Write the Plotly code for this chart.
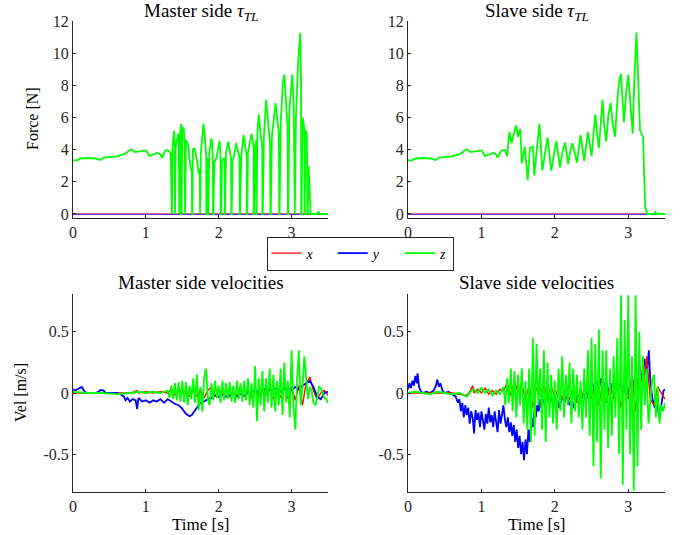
import plotly.graph_objects as go

# ---------------- data ----------------
# Force (top row)
t_force_xy = [0.0, 0.5, 1.0, 1.5, 2.0, 2.5, 3.0, 3.5]
master_fx = [0.0, 0.0, 0.0, 0.0, 0.0, 0.0, 0.0, 0.0]
master_fy = [-0.03, -0.03, -0.03, -0.03, -0.03, -0.03, -0.03, -0.03]
slave_fx = [0.0, 0.0, 0.0, 0.0, 0.0, 0.0, 0.0, 0.0]
slave_fy = [-0.03, -0.03, -0.03, -0.03, -0.03, -0.03, -0.03, -0.03]

t_master_fz = [0.00, 0.05, 0.10, 0.20, 0.30, 0.38, 0.42, 0.50, 0.60, 0.70, 0.78, 0.80, 0.85, 0.92, 1.00,
               1.05, 1.10, 1.15, 1.20, 1.22, 1.27, 1.30,
               1.34, 1.347, 1.357, 1.365, 1.388, 1.392, 1.395, 1.40, 1.41, 1.443, 1.452, 1.454, 1.46,
               1.47, 1.485, 1.487, 1.49, 1.50, 1.52, 1.532, 1.534, 1.538, 1.55, 1.58, 1.61, 1.632, 1.634,
               1.638, 1.645, 1.665, 1.70, 1.725, 1.738, 1.74, 1.745, 1.755, 1.79, 1.81, 1.828, 1.83, 1.835,
               1.84, 1.852, 1.854, 1.858, 1.87, 1.90, 1.91, 1.92, 1.922, 1.926, 1.94, 1.97, 2.01, 2.025,
               2.027, 2.031, 2.045, 2.06, 2.08, 2.082, 2.086, 2.10, 2.13, 2.15, 2.17, 2.173, 2.177, 2.19,
               2.21, 2.24, 2.26, 2.285, 2.288, 2.292, 2.31, 2.34, 2.36, 2.385, 2.388, 2.392, 2.40, 2.45,
               2.47, 2.478, 2.48, 2.484, 2.495, 2.514, 2.516, 2.52, 2.53, 2.55, 2.57, 2.597, 2.60, 2.604,
               2.62, 2.65, 2.67, 2.705, 2.71, 2.714, 2.73, 2.78, 2.80, 2.826, 2.83, 2.834, 2.85, 2.88,
               2.90, 2.92, 2.946, 2.95, 2.954, 2.97, 3.01, 3.03, 3.037, 3.04, 3.044, 3.06, 3.09, 3.12,
               3.13, 3.132, 3.136, 3.15, 3.175, 3.178, 3.182, 3.19, 3.21, 3.218, 3.222, 3.235, 3.25, 3.26,
               3.30, 3.35, 3.37, 3.39, 3.45, 3.50]
master_fz = [3.35, 3.32, 3.45, 3.48, 3.45, 3.35, 3.50, 3.52, 3.58, 3.72, 3.95, 4.02, 3.85, 3.88, 3.95,
             3.60, 3.70, 3.80, 3.70, 3.50, 3.95, 3.95,
             3.80, 0.0, 0.0, 4.2, 5.18, 4.8, 0.0, 0.0, 4.2, 5.0, 4.5, 0.0, 0.0,
             5.0, 5.6, 0.0, 0.0, 5.4, 5.3, 4.5, 0.0, 0.0, 4.6, 4.3, 3.0, 2.6, 0.0,
             0.0, 4.0, 4.1, 3.4, 2.5, 2.8, 0.0, 0.0, 3.8, 5.6, 4.8, 3.6, 0.0, 0.0,
             3.5, 3.2, 0.0, 0.0, 3.8, 4.7, 4.4, 3.4, 0.0, 0.0, 3.2, 3.5, 4.55, 3.8,
             0.0, 0.0, 3.3, 3.4, 3.5, 0.0, 0.0, 3.8, 4.5, 4.0, 3.4, 0.0, 0.0, 3.4,
             3.6, 4.4, 3.9, 3.5, 0.0, 0.0, 3.6, 4.9, 4.3, 3.6, 0.0, 0.0, 3.8, 5.0,
             4.4, 4.2, 0.0, 0.0, 4.0, 4.6, 0.0, 0.0, 5.0, 6.2, 5.2, 4.1, 0.0, 0.0,
             4.8, 7.1, 6.2, 4.3, 0.0, 0.0, 4.8, 6.9, 6.0, 5.0, 0.0, 0.0, 5.5, 8.2,
             8.65, 7.0, 5.4, 0.0, 0.0, 6.5, 8.65, 6.5, 4.0, 0.0, 0.0, 6.0, 9.5, 11.27,
             8.0, 0.0, 0.0, 6.0, 5.3, 0.0, 0.0, 5.2, 5.0, 0.0, 0.0, 3.0, 1.0, 0.0,
             0.0, 0.0, 0.12, 0.0, 0.0, 0.0]

t_slave_fz = [0.00, 0.05, 0.10, 0.20, 0.30, 0.38, 0.42, 0.50, 0.60, 0.70, 0.78, 0.80, 0.85, 0.92, 1.00,
              1.05, 1.10, 1.15, 1.20, 1.22, 1.27, 1.30,
              1.32, 1.35, 1.38, 1.41, 1.44, 1.47, 1.50, 1.53, 1.55, 1.59, 1.63, 1.66, 1.70, 1.72,
              1.745, 1.79, 1.83, 1.86, 1.90, 1.95, 1.98, 2.02, 2.07, 2.10, 2.14, 2.18, 2.21, 2.24,
              2.30, 2.33, 2.35, 2.40, 2.43, 2.45, 2.50, 2.53, 2.55, 2.58, 2.60, 2.63, 2.65, 2.67,
              2.70, 2.73, 2.76, 2.79, 2.82, 2.85, 2.88, 2.90, 2.94, 2.97, 3.00, 3.03, 3.06, 3.08,
              3.11, 3.13, 3.16, 3.18, 3.20, 3.23, 3.26, 3.30, 3.35, 3.37, 3.39, 3.50]
slave_fz = [3.35, 3.32, 3.45, 3.48, 3.45, 3.35, 3.50, 3.52, 3.58, 3.72, 3.95, 4.02, 3.85, 3.88, 3.95,
            3.60, 3.70, 3.80, 3.70, 3.50, 3.95, 3.95,
            3.98, 3.60, 5.10, 4.40, 5.00, 5.50, 4.80, 5.30, 3.15, 4.20, 2.10, 4.10, 4.20, 2.40,
            3.60, 5.60, 2.70, 3.50, 4.77, 2.70, 3.60, 4.55, 2.90, 3.80, 4.45, 3.10, 3.90, 4.40,
            3.20, 4.20, 4.90, 3.30, 4.30, 5.10, 3.60, 5.00, 6.20, 4.80, 4.10, 6.00, 7.10, 5.60,
            4.50, 6.20, 6.90, 5.50, 4.80, 7.00, 8.40, 8.70, 5.70, 7.50, 8.65, 6.80, 5.00, 8.00,
            11.28, 9.00, 5.20, 5.00, 4.80, 0.45, 0.00, 0.00, 0.00, 0.12, 0.00, 0.00]

# Velocities (bottom row)
t_master_vx = [0.0, 0.3, 0.6, 0.8, 0.88, 0.9, 1.0, 1.1, 1.2, 1.3, 1.35, 1.4, 1.45, 1.5, 1.55, 1.6, 1.65,
               1.7, 1.75, 1.8, 1.85, 1.9, 1.95, 2.0, 2.05, 2.1, 2.15, 2.2, 2.25, 2.3, 2.35, 2.4, 2.45,
               2.5, 2.55, 2.6, 2.65, 2.7, 2.75, 2.8, 2.85, 2.9, 2.95, 3.0, 3.05, 3.1, 3.15, 3.2, 3.25,
               3.3, 3.35, 3.4, 3.45, 3.5]
master_vx = [0.0, 0.0, 0.0, 0.0, 0.02, 0.0, 0.01, 0.0, 0.01, 0.0, 0.03, -0.02, 0.04, 0.0, 0.03, -0.03,
             0.02, -0.03, 0.03, -0.04, 0.02, 0.05, -0.03, 0.04, -0.02, 0.03, -0.03, 0.02, -0.02, 0.03,
             -0.03, 0.02, -0.04, 0.04, -0.03, 0.05, -0.02, 0.04, -0.05, 0.03, -0.04, 0.06, -0.05, 0.05,
             -0.06, 0.06, -0.10, 0.08, 0.13, 0.02, -0.05, 0.0, 0.02, -0.02]

t_master_vy = [0.00, 0.03, 0.06, 0.10, 0.12, 0.14, 0.16, 0.20, 0.25, 0.30, 0.35, 0.38, 0.42, 0.45, 0.50,
               0.60, 0.65, 0.70, 0.72, 0.75, 0.78, 0.82, 0.86, 0.88, 0.90, 0.95, 1.00, 1.05, 1.10, 1.15,
               1.20, 1.25, 1.30, 1.35, 1.40, 1.45, 1.50, 1.55, 1.60, 1.63, 1.66, 1.70, 1.75, 1.80, 1.85,
               1.90, 1.95, 2.00, 2.05, 2.10, 2.15, 2.20, 2.25, 2.30, 2.35, 2.40, 2.45, 2.50, 2.55, 2.60,
               2.65, 2.70, 2.75, 2.80, 2.85, 2.90, 2.95, 3.00, 3.05, 3.10, 3.15, 3.20, 3.25, 3.30, 3.35,
               3.40, 3.45, 3.50]
master_vy = [0.03, 0.02, 0.03, 0.04, 0.05, 0.03, 0.01, 0.0, 0.0, 0.0, 0.01, 0.025, 0.02, 0.0, 0.0,
             0.0, -0.01, -0.03, -0.06, -0.04, -0.07, -0.05, -0.06, -0.13, -0.04, -0.07, -0.06, -0.08,
             -0.06, -0.07, -0.05, -0.08, -0.05, -0.07, -0.09, -0.10, -0.13, -0.17, -0.19, -0.18, -0.15,
             -0.12, -0.08, -0.07, -0.05, -0.04, -0.02, -0.03, -0.01, -0.03, -0.02, 0.0, -0.03, -0.01,
             -0.02, 0.0, -0.01, 0.03, 0.0, 0.02, 0.04, 0.02, 0.03, 0.04, 0.01, 0.03, 0.04, 0.02, 0.05,
             0.03, 0.06, 0.08, 0.10, 0.05, -0.03, -0.05, 0.0, 0.01]

t_master_vz = [0.0, 0.2, 0.4, 0.6, 0.8, 0.9, 1.0, 1.1, 1.2, 1.3,
               1.325, 1.35, 1.375, 1.40, 1.425, 1.45, 1.475, 1.50, 1.525, 1.55, 1.575, 1.60, 1.625,
               1.65, 1.675, 1.70, 1.725, 1.75, 1.775, 1.80, 1.825, 1.85, 1.875, 1.90, 1.925, 1.95,
               1.975, 2.00, 2.025, 2.05, 2.075, 2.10, 2.125, 2.15, 2.175, 2.20, 2.225, 2.25, 2.275,
               2.30, 2.325, 2.35, 2.375, 2.40, 2.425, 2.45, 2.475, 2.50, 2.525, 2.55, 2.575, 2.60,
               2.625, 2.65, 2.675, 2.70, 2.725, 2.75, 2.775, 2.80, 2.825, 2.85, 2.875, 2.90, 2.925,
               2.95, 2.975, 3.00, 3.025, 3.05, 3.075, 3.10, 3.125, 3.15, 3.175, 3.20, 3.225, 3.25,
               3.275, 3.30, 3.325, 3.35, 3.375, 3.40, 3.425, 3.45, 3.475, 3.50]
master_vz = [0.01, 0.0, 0.0, -0.01, 0.0, 0.01, 0.0, 0.01, 0.0, 0.02,
             -0.04, 0.06, -0.05, 0.08, -0.06, 0.09, -0.07, 0.10, -0.08, 0.09, -0.10, 0.06, -0.05,
             0.12, -0.08, 0.15, -0.14, 0.05, -0.15, 0.12, 0.20, -0.05, -0.10, 0.08, -0.06, 0.10,
             -0.04, 0.06, -0.08, 0.10, -0.06, 0.08, -0.05, 0.09, -0.07, 0.06, -0.08, 0.10, -0.05,
             0.08, -0.07, 0.10, -0.06, 0.12, -0.10, 0.08, -0.12, 0.22, -0.23, 0.12, -0.10, 0.18,
             -0.15, 0.12, -0.08, 0.20, -0.12, 0.15, -0.15, 0.10, -0.10, 0.20, -0.18, 0.25, -0.08,
             0.10, -0.20, 0.35, -0.10, -0.30, 0.10, 0.35, -0.10, 0.05, 0.30, 0.15, -0.05, 0.05,
             0.02, -0.08, -0.10, -0.05, 0.05, 0.04, 0.0, -0.04, -0.05, -0.08]

t_slave_vx = [0.0, 0.3, 0.6, 0.8, 0.85, 0.88, 0.9, 0.95, 1.0, 1.05, 1.1, 1.15, 1.2, 1.25, 1.3, 1.35,
              1.4, 1.45, 1.5, 1.55, 1.6, 1.65, 1.7, 1.75, 1.8, 1.85, 1.9, 1.95, 2.0, 2.05, 2.1, 2.15,
              2.2, 2.25, 2.3, 2.35, 2.4, 2.45, 2.5, 2.55, 2.6, 2.65, 2.7, 2.75, 2.8, 2.85, 2.9, 2.95,
              3.0, 3.05, 3.1, 3.15, 3.2, 3.25, 3.3, 3.35, 3.4, 3.45, 3.5]
slave_vx = [0.0, 0.0, 0.0, -0.02, 0.02, 0.06, 0.0, 0.03, 0.0, 0.04, -0.01, 0.02, -0.01, 0.03, 0.02,
            0.08, -0.02, 0.10, 0.0, 0.07, -0.05, 0.06, -0.12, 0.05, -0.02, 0.08, -0.05, 0.06, -0.04,
            0.05, -0.05, 0.04, -0.06, 0.05, -0.08, 0.03, -0.05, 0.06, -0.05, 0.04, -0.10, 0.08, -0.08,
            0.06, -0.05, 0.10, -0.12, 0.05, -0.05, 0.15, -0.15, 0.20, 0.05, 0.30, -0.05, -0.10, 0.05,
            0.0, -0.05]

t_slave_vy = [0.00, 0.02, 0.04, 0.06, 0.08, 0.10, 0.12, 0.13, 0.15, 0.17, 0.20, 0.25, 0.30, 0.35, 0.38,
              0.40, 0.42, 0.44, 0.47, 0.50, 0.55, 0.60, 0.65, 0.68, 0.70, 0.72, 0.74, 0.76, 0.78, 0.80,
              0.82, 0.84, 0.86, 0.88, 0.90, 0.92, 0.94, 0.96, 0.98, 1.00, 1.02, 1.04, 1.06, 1.08, 1.10,
              1.12, 1.14, 1.16, 1.18, 1.20, 1.22, 1.24, 1.26, 1.28, 1.30, 1.32, 1.34, 1.36, 1.38, 1.40,
              1.42, 1.44, 1.46, 1.48, 1.50, 1.52, 1.54, 1.56, 1.58, 1.60, 1.62, 1.64, 1.66, 1.68, 1.70,
              1.72, 1.74, 1.76, 1.78, 1.80, 1.82, 1.85, 1.88, 1.90, 1.93, 1.96, 2.00, 2.03, 2.06, 2.10,
              2.13, 2.16, 2.20, 2.23, 2.26, 2.30, 2.33, 2.36, 2.40, 2.43, 2.46, 2.50, 2.53, 2.56, 2.60,
              2.63, 2.66, 2.70, 2.73, 2.76, 2.80, 2.83, 2.86, 2.90, 2.93, 2.96, 3.00, 3.03, 3.06, 3.10,
              3.13, 3.16, 3.19, 3.22, 3.25, 3.28, 3.30, 3.33, 3.36, 3.39, 3.42, 3.45, 3.48, 3.50]
slave_vy = [0.03, 0.08, 0.04, 0.10, 0.06, 0.14, 0.08, 0.16, 0.05, 0.02, 0.0, 0.01, 0.0, 0.02, 0.06,
            0.11, 0.05, 0.08, 0.02, 0.0, 0.01, -0.01, -0.03, -0.08, -0.05, -0.15, -0.08, -0.20, -0.10,
            -0.18, -0.12, -0.25, -0.15, -0.20, -0.33, -0.14, -0.22, -0.16, -0.28, -0.15, -0.22, -0.30,
            -0.17, -0.25, -0.12, -0.24, -0.18, -0.28, -0.15, -0.22, -0.32, -0.14, -0.25, -0.18, -0.10,
            -0.22, -0.28, -0.20, -0.32, -0.24, -0.35, -0.26, -0.40, -0.30, -0.45, -0.35, -0.50, -0.40,
            -0.55, -0.38, -0.50, -0.30, -0.40, -0.20, -0.28, -0.15, -0.20, -0.10, -0.15, -0.05, -0.12,
            -0.05, -0.10, -0.02, -0.08, -0.04, -0.10, -0.05, -0.12, -0.03, -0.08, -0.02, -0.10, -0.05,
            -0.12, -0.02, -0.07, 0.0, -0.06, 0.02, -0.05, 0.12, 0.02, 0.10, 0.03, 0.12, 0.05, 0.10,
            0.0, 0.08, -0.02, 0.05, 0.02, 0.08, 0.0, 0.10, -0.02, 0.10, 0.05, 0.15, 0.05, 0.20, 0.10,
            0.28, 0.15, 0.35, 0.10, -0.05, -0.12, -0.05, -0.20, -0.10, 0.02, 0.03]

t_slave_vz = [0.0, 0.1, 0.2, 0.3, 0.4, 0.5, 0.6, 0.7, 0.8, 0.85, 0.9, 0.95, 1.0, 1.05, 1.1, 1.15, 1.2,
              1.25, 1.3,
              1.325, 1.35, 1.375, 1.40, 1.425, 1.45, 1.475, 1.50, 1.525, 1.55, 1.575, 1.60, 1.625,
              1.65, 1.675, 1.70, 1.725, 1.75, 1.775, 1.80, 1.825, 1.85, 1.875, 1.90, 1.925, 1.95,
              1.975, 2.00, 2.025, 2.05, 2.075, 2.10, 2.125, 2.15, 2.175, 2.20, 2.225, 2.25, 2.275,
              2.30, 2.325, 2.35, 2.375, 2.40, 2.425, 2.45, 2.475, 2.50, 2.525, 2.55, 2.575, 2.60,
              2.625, 2.65, 2.675, 2.70, 2.725, 2.75, 2.775, 2.80, 2.825, 2.85, 2.875, 2.90, 2.925,
              2.95, 2.975, 3.00, 3.025, 3.05, 3.075, 3.10, 3.125, 3.15, 3.175, 3.20, 3.225, 3.25,
              3.275, 3.30, 3.325, 3.35, 3.375, 3.40, 3.425, 3.45, 3.475, 3.50]
slave_vz = [0.0, 0.01, 0.0, -0.01, 0.01, 0.0, -0.01, 0.0, -0.03, 0.01, 0.03, 0.0, 0.04, 0.0, 0.03,
            -0.02, 0.02, -0.01, 0.05,
            -0.10, 0.12, -0.08, 0.20, -0.15, 0.18, -0.20, 0.15, -0.10, 0.20, -0.25, 0.10, -0.30,
            0.20, -0.40, 0.45, -0.35, 0.40, -0.10, 0.20, -0.30, 0.35, -0.40, 0.25, -0.20, 0.15,
            -0.25, 0.10, -0.30, 0.20, -0.15, 0.30, -0.20, 0.15, -0.10, 0.25, -0.25, 0.20, -0.15,
            0.15, -0.20, 0.10, -0.30, 0.20, -0.20, 0.35, -0.35, 0.45, -0.60, 0.40, -0.40, 0.52,
            -0.70, 0.35, -0.30, 0.35, -0.45, 0.20, -0.35, 0.30, -0.20, 0.45, -0.50, 0.80, -0.75,
            0.60, -0.30, 0.80, -0.50, 0.30, -0.80, 0.80, -0.60, 0.50, -0.30, 0.30, -0.10, 0.20,
            -0.25, -0.10, 0.10, 0.15, -0.20, 0.05, -0.25, -0.10, -0.15, -0.08]

x_ticks = [0, 1, 2, 3]
force_ticks = [0, 2, 4, 6, 8, 10, 12]
vel_ticks = [-0.5, 0, 0.5]
vel_tick_text = ["-0.5", "0", "0.5"]
legend_names = ["<i>x</i>\u00a0\u00a0\u00a0\u00a0", "<i>y</i>\u00a0\u00a0\u00a0\u00a0", "<i>z</i>"]

# ---------------- figure ----------------
RED, BLUE, GREEN = "#ff0000", "#0000ff", "#00ff00"
FONT = "Liberation Serif, DejaVu Serif, serif"
AX = "#262626"

fig = go.Figure()

def add(x, y, color, xa, ya, width, name, show, opacity=1.0):
    fig.add_trace(go.Scatter(x=x, y=y, mode="lines", line=dict(color=color, width=width),
                             xaxis=xa, yaxis=ya, name=name, showlegend=show,
                             legendgroup=name, opacity=opacity, hoverinfo="skip"))

add(t_force_xy, master_fx, RED, "x", "y", 1.2, legend_names[0], False)
add(t_force_xy, master_fy, BLUE, "x", "y", 1.2, legend_names[1], False, 0.6)
add(t_master_fz, master_fz, GREEN, "x", "y", 1.8, legend_names[2], False)

add(t_force_xy, slave_fx, RED, "x2", "y2", 1.2, legend_names[0], False)
add(t_force_xy, slave_fy, BLUE, "x2", "y2", 1.2, legend_names[1], False, 0.6)
add(t_slave_fz, slave_fz, GREEN, "x2", "y2", 1.8, legend_names[2], False)

add(t_master_vx, master_vx, RED, "x3", "y3", 1.4, legend_names[0], True)
add(t_master_vy, master_vy, BLUE, "x3", "y3", 1.8, legend_names[1], True)
add(t_master_vz, master_vz, GREEN, "x3", "y3", 1.8, legend_names[2], True)

add(t_slave_vy, slave_vy, BLUE, "x4", "y4", 1.8, legend_names[1], False)
add(t_slave_vx, slave_vx, RED, "x4", "y4", 1.4, legend_names[0], False)
add(t_slave_vz, slave_vz, GREEN, "x4", "y4", 1.8, legend_names[2], False)

W, H = 683, 535
def dx(a, b):
    return [a / W, b / W]
def dy(top, bottom):
    return [(H - bottom) / H, (H - top) / H]

common_x = dict(range=[0, 3.5], tickvals=x_ticks, showline=True, linecolor=AX, linewidth=1,
                ticks="inside", ticklen=3, tickcolor=AX, showgrid=False, zeroline=False,
                automargin=False, tickfont=dict(family=FONT, size=16, color=AX))
common_y = dict(showline=True, linecolor=AX, linewidth=1, ticks="inside", ticklen=3, tickcolor=AX,
                showgrid=False, zeroline=False, automargin=False,
                tickfont=dict(family=FONT, size=16, color=AX))

L1, R1, L2, R2 = 73, 328, 408, 665
fig.update_layout(
    width=W, height=H, margin=dict(l=0, r=0, t=0, b=0, autoexpand=False),
    paper_bgcolor="white", plot_bgcolor="white",
    xaxis=dict(domain=dx(L1, R1), anchor="y", **common_x),
    yaxis=dict(domain=dy(21, 218), anchor="x", range=[-0.25, 12], tickvals=force_ticks, **common_y),
    xaxis2=dict(domain=dx(L2, R2), anchor="y2", **common_x),
    yaxis2=dict(domain=dy(21, 218), anchor="x2", range=[-0.25, 12], tickvals=force_ticks, **common_y),
    xaxis3=dict(domain=dx(L1, R1), anchor="y3", **common_x),
    yaxis3=dict(domain=dy(294, 492), anchor="x3", range=[-0.81, 0.81], tickvals=vel_ticks,
                ticktext=vel_tick_text, **common_y),
    xaxis4=dict(domain=dx(L2, R2), anchor="y4", **common_x),
    yaxis4=dict(domain=dy(294, 492), anchor="x4", range=[-0.81, 0.81], tickvals=vel_ticks,
                ticktext=vel_tick_text, **common_y),
    legend=dict(orientation="h", x=360 / W, xanchor="center", y=(H - 253.5) / H, yanchor="middle",
                bordercolor=AX, borderwidth=1, bgcolor="white",
                font=dict(family=FONT, size=14, color="black"),
                itemwidth=30, tracegroupgap=0),
    showlegend=True,
)

def text(x, y, s, size=16, angle=0):
    fig.add_annotation(x=x / W, y=1 - y / H, xref="paper", yref="paper", text=s, showarrow=False,
                       textangle=angle, font=dict(family=FONT, size=size, color="black"),
                       xanchor="center", yanchor="middle")

text((L1 + R1) / 2, 12, "Master side <i>τ</i><sub><i>TL</i></sub>", 19)
text((L2 + R2) / 2, 12, "Slave side <i>τ</i><sub><i>TL</i></sub>", 19)
text((L1 + R1) / 2, 282, "Master side velocities", 19)
text((L2 + R2) / 2, 282, "Slave side velocities", 19)
text(32, 119, "Force [N]", 16, -90)
text(20, 393, "Vel [m/s]", 16, -90)
text((L1 + R1) / 2, 524, "Time [s]", 17)
text((L2 + R2) / 2, 524, "Time [s]", 17)

fig.write_html("out.html", config={"displayModeBar": False},
               post_script="document.body.style.margin='0';")
